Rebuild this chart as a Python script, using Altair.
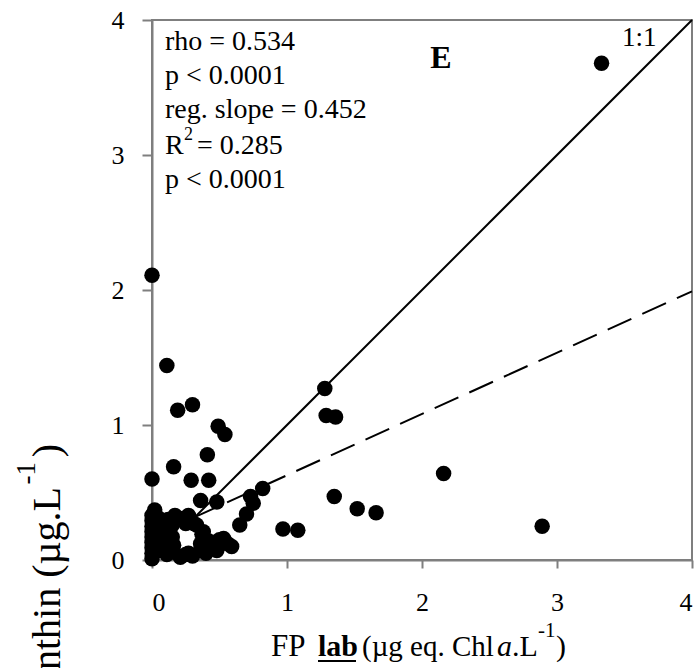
import altair as alt
import pandas as pd

# ---- data ----
fp_lab = [3.33, 0.00, 0.11, 0.19, 0.30, 0.49, 0.54, 1.28, 1.29, 1.36,
          0.41, 0.16, 0.00, 0.29, 0.42, 0.36, 0.48, 0.82, 0.73, 0.75,
          0.70, 0.65, 0.97, 1.08, 1.35, 1.52, 1.66, 2.16, 2.89, 0.59,
          0.00, 0.00, 0.00, 0.00, 0.00, 0.00, 0.00, 0.00, 0.00, 0.02,
          0.03, 0.04, 0.05, 0.06, 0.07, 0.08, 0.09, 0.10, 0.11, 0.12,
          0.13, 0.15, 0.16, 0.17, 0.16, 0.20, 0.21, 0.24, 0.25, 0.27,
          0.30, 0.31, 0.36, 0.33, 0.37, 0.36, 0.38, 0.40, 0.42, 0.45,
          0.48, 0.50, 0.53, 0.56, 0.15, 0.25, 0.27]
pigment = [3.68, 2.11, 1.44, 1.11, 1.15, 0.99, 0.93, 1.27, 1.07, 1.06,
           0.78, 0.69, 0.60, 0.59, 0.59, 0.44, 0.43, 0.53, 0.47, 0.42,
           0.34, 0.26, 0.23, 0.22, 0.47, 0.38, 0.35, 0.64, 0.25, 0.10,
           0.01, 0.05, 0.09, 0.13, 0.17, 0.21, 0.25, 0.29, 0.33, 0.37,
           0.11, 0.23, 0.31, 0.07, 0.18, 0.27, 0.13, 0.22, 0.04, 0.30,
           0.16, 0.26, 0.06, 0.33, 0.11, 0.31, 0.02, 0.31, 0.04, 0.33,
           0.03, 0.27, 0.12, 0.26, 0.19, 0.07, 0.21, 0.05, 0.14, 0.10,
           0.07, 0.15, 0.16, 0.12, 0.17, 0.27, 0.05]

one_to_one_x = [0.3, 4.0]
one_to_one_y = [0.3, 4.0]
reg_x = [0.3, 4.0]
reg_y = [0.31, 1.99]

ticks = [0, 1, 2, 3, 4]

FONT = "Liberation Serif"
GRAY = "#7f7f7f"
OX, OY = 152, 20   # plot-area origin in page pixels

pts = pd.DataFrame({"x": fp_lab, "y": pigment})
line11 = pd.DataFrame({"x": one_to_one_x, "y": one_to_one_y})
regl = pd.DataFrame({"x": reg_x, "y": reg_y})

xscale = alt.Scale(domain=[0, 4], nice=False, zero=False)
yscale = alt.Scale(domain=[0, 4], nice=False, zero=False)

xaxis = alt.Axis(values=ticks, title=None, grid=False, domainColor=GRAY, domainWidth=2,
                 tickColor=GRAY, tickWidth=2, tickSize=8, labelFont=FONT, labelFontSize=26,
                 labelColor="black", labelPadding=21, format="d")
yaxis = alt.Axis(values=ticks, title=None, grid=False, domainColor=GRAY, domainWidth=2,
                 tickColor=GRAY, tickWidth=2, tickSize=10, labelFont=FONT, labelFontSize=26,
                 labelColor="black", labelPadding=18, format="d")

points = alt.Chart(pts).mark_circle(size=240, color="black", opacity=1).encode(
    x=alt.X("x:Q", scale=xscale, axis=xaxis),
    y=alt.Y("y:Q", scale=yscale, axis=yaxis),
)

l11 = alt.Chart(line11).mark_line(color="black", strokeWidth=2).encode(
    x=alt.X("x:Q", scale=xscale), y=alt.Y("y:Q", scale=yscale))
lreg = alt.Chart(regl).mark_line(color="black", strokeWidth=2, strokeDash=[26, 12]).encode(
    x=alt.X("x:Q", scale=xscale), y=alt.Y("y:Q", scale=yscale))


def txt(s, px, py, size, weight="normal", style="normal", align="left", angle=0):
    d = pd.DataFrame({"t": [s]})
    kw = dict(font=FONT, fontSize=size, fontWeight=weight, fontStyle=style,
              align=align, baseline="alphabetic", color="black")
    if angle:
        kw["angle"] = angle
    return alt.Chart(d).mark_text(**kw).encode(
        x=alt.value(px - OX), y=alt.value(py - OY), text="t:N")


layers = [points, l11, lreg]

# statistics box
layers += [
    txt("rho = 0.534", 165, 50, 28),
    txt("p < 0.0001", 165, 84, 28),
    txt("reg. slope = 0.452", 165, 118, 28),
    txt("R", 165, 154, 28),
    txt("2", 184, 140, 18),
    txt("= 0.285", 197, 154, 28),
    txt("p < 0.0001", 165, 188, 28),
    txt("E", 441, 68, 32, weight="bold", align="center"),
    txt("1:1", 622, 46, 27),
]

# x axis title
layers += [
    txt("FP", 271, 656, 31),
    txt("lab", 318, 656, 30, weight="bold"),
    alt.Chart(pd.DataFrame({"a": [0]})).mark_rule(color="black", strokeWidth=2).encode(
        x=alt.value(318 - OX), x2=alt.value(356 - OX), y=alt.value(661 - OY)),
    txt("(\u00b5g eq. Chl", 362, 656, 29),
    txt("a", 497, 656, 30, style="italic"),
    txt(".L", 512, 656, 30),
    txt("-1", 538, 637, 21),
    txt(")", 556, 656, 30),
]

# y axis title (rotated, cut off by the page bottom as in the reference)
layers += [
    txt("Zeaxanthin (\u00b5g.L", 60, 487, 40, align="right", angle=270),
    txt("-1", 35, 462, 27, align="right", angle=270),
    txt(")", 60, 444, 40, align="right", angle=270),
]

chart = alt.layer(*layers).properties(
    width=540, height=540,
    padding={"left": OX, "top": OY, "right": 8, "bottom": 108},
    autosize=alt.AutoSizeParams(type="none"),
    background="white",
).configure_view(stroke=GRAY, strokeWidth=2)

chart.save("out.html", embed_options={"renderer": "svg", "actions": False})
